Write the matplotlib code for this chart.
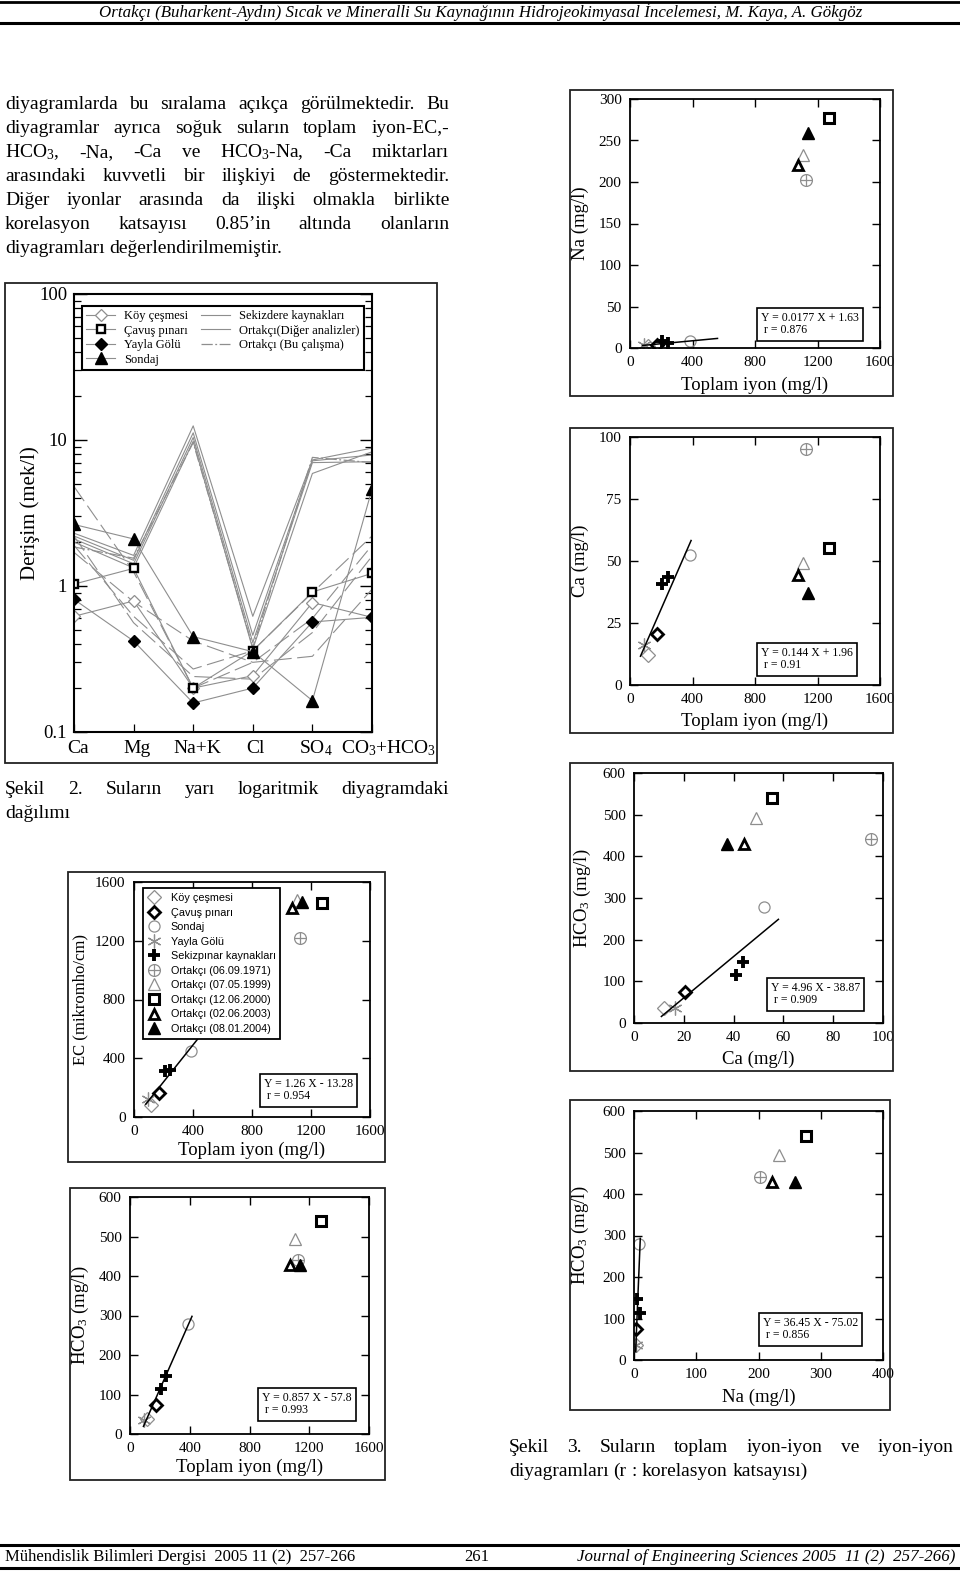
import matplotlib
matplotlib.use('Agg')
import matplotlib.pyplot as plt
import numpy as np
from matplotlib.patches import Rectangle
from matplotlib.lines import Line2D
from matplotlib.legend_handler import HandlerTuple
from matplotlib.ticker import LogLocator, NullFormatter, FixedLocator
import matplotlib.transforms as mtransforms

W, H = 960, 1573
SERIF = 'Liberation Serif'
SANS = 'Liberation Sans'
plt.rcParams['font.family'] = [SERIF, 'DejaVu Serif']
plt.rcParams['mathtext.fontset'] = 'custom'
plt.rcParams['mathtext.rm'] = SERIF
plt.rcParams['mathtext.it'] = SERIF + ':italic'
plt.rcParams['mathtext.bf'] = SERIF + ':bold'

GRAY = '#8e8e8e'

# ---------------- Şekil 2 : yarı logaritmik diyagram (mek/l)
iyonlar = ['Ca', 'Mg', 'Na+K', 'Cl', 'SO$_4$', 'CO$_3$+HCO$_3$']
koy_cesmesi = [0.62, 0.79, 0.20, 0.243, 0.77, 0.61]
cavus_pinari = [1.03, 1.32, 0.20, 0.36, 0.91, 1.22]
yayla_golu = [0.81, 0.42, 0.158, 0.20, 0.567, 0.61]
sondaj = [2.64, 2.10, 0.45, 0.355, 0.164, 4.6]
ortakci_diger = [
    [2.3, 1.62, 12.5, 0.62, 7.3, 8.8],
    [2.2, 1.50, 11.2, 0.46, 7.2, 7.9],
    [2.1, 1.42, 10.4, 0.41, 7.0, 7.1],
    [2.0, 1.33, 9.8, 0.37, 5.9, 8.3],
]
ortakci_bu = [1.85, 1.55, 9.6, 0.38, 7.6, 7.0]
sekizdere = [
    [4.8, 1.25, 0.20, 0.30, 0.60, 1.9],
    [1.9, 0.62, 0.27, 0.36, 0.90, 2.2],
    [2.2, 0.56, 0.24, 0.23, 0.48, 1.6],
    [1.7, 0.78, 0.42, 0.30, 0.33, 0.95],
]

# ---------------- Şekil 3 : iyon ilişkileri (mg/l)
gruplar = ['Köy çeşmesi', 'Çavuş pınarı', 'Sondaj', 'Yayla Gölü',
           'Sekizpınar kaynakları', 'Ortakçı (06.09.1971)', 'Ortakçı (07.05.1999)',
           'Ortakçı (12.06.2000)', 'Ortakçı (02.06.2003)', 'Ortakçı (08.01.2004)']
grup = [0, 1, 2, 3, 4, 4, 5, 6, 7, 8, 9]
toplam_iyon = [115, 172, 385, 92, 207, 241, 1128, 1106, 1276, 1072, 1139]
na = [3.0, 3.6, 8.8, 3.2, 9.0, 5.5, 202, 233, 277, 221, 259]
ca = [12.0, 20.4, 52.3, 16.3, 40.9, 43.7, 95.0, 49.0, 55.4, 44.2, 37.2]
hco3 = [37, 74, 279, 36, 114, 147, 441, 493, 539, 429, 429]
ec = [79, 164, 450, 122, 316, 322, 1222, 1475, 1458, 1425, 1464]

# regresyon: (eğim, kesim, x başlangıç, x bitiş)
na_ti_fit = (0.0177, 1.63, 80, 560)
ca_ti_fit = (0.144, 1.96, 67, 391)
hco3_ca_fit = (4.96, -38.87, 11, 58)
ec_ti_fit = (1.26, -13.28, 80, 430)
hco3_ti_fit = (0.857, -57.8, 90, 415)
hco3_na_fit = (36.45, -75.02, 2.6, 10.1)
na_ti_eq = 'Y = 0.0177 X + 1.63\n r = 0.876'
ca_ti_eq = 'Y = 0.144 X + 1.96\n r = 0.91'
hco3_ca_eq = 'Y = 4.96 X - 38.87\n r = 0.909'
ec_ti_eq = 'Y = 1.26 X - 13.28\n r = 0.954'
hco3_ti_eq = 'Y = 0.857 X - 57.8\n r = 0.993'
hco3_na_eq = 'Y = 36.45 X - 75.02\n r = 0.856'

paragraf = [
    'diyagramlarda bu sıralama açıkça görülmektedir. Bu',
    'diyagramlar ayrıca soğuk suların toplam iyon-EC,-',
    'HCO$_3$, -Na, -Ca ve HCO$_3$-Na, -Ca miktarları',
    'arasındaki kuvvetli bir ilişkiyi de göstermektedir.',
    'Diğer iyonlar arasında da ilişki olmakla birlikte',
    'korelasyon katsayısı 0.85’in altında olanların',
    'diyagramları değerlendirilmemiştir.',
]

fig = plt.figure(figsize=(W / 100, H / 100), dpi=100)
fig.patch.set_facecolor('white')
renderer = fig.canvas.get_renderer()


def box(l, t, r, b):
    return [l / W, 1 - b / H, (r - l) / W, (b - t) / H]


def ftxt(x, y, s, **kw):
    return fig.text(x / W, 1 - y / H, s, **kw)


def frame(l, t, r, b, lw=1.3):
    fig.add_artist(Rectangle((l / W, 1 - b / H), (r - l) / W, (b - t) / H,
                             transform=fig.transFigure, fill=False, lw=lw, ec='#222222'))


def hline(y, x0, x1, lw):
    fig.add_artist(Line2D([x0 / W, x1 / W], [1 - y / H] * 2, transform=fig.transFigure,
                          color='black', lw=lw))


def justify(line, yb, x0, x1, size, last=False, **kw):
    words = line.split()
    arts = [ftxt(x0, yb, w, fontsize=size, va='baseline', ha='left', **kw) for w in words]
    widths = [a.get_window_extent(renderer).width for a in arts]
    if last or len(words) == 1:
        gap = size * 100 / 72 * 0.25
    else:
        gap = (x1 - x0 - sum(widths)) / (len(words) - 1)
    x = x0
    for a, w in zip(arts, widths):
        a.set_x(x / W)
        x += w + gap


# ---- başlık ve alt bilgi
hline(1.5, 0, W, 2.0)
hline(22.5, 0, W, 2.2)
ftxt(481, 17, 'Ortakçı (Buharkent-Aydın) Sıcak ve Mineralli Su Kaynağının Hidrojeokimyasal '
     'İncelemesi, M. Kaya, A. Gökgöz', fontsize=12.2, style='italic', ha='center', va='baseline')
hline(1545, 0, W, 2.2)
hline(1567.5, 0, W, 2.2)
ftxt(5, 1561, 'Mühendislik Bilimleri Dergisi  2005 11 (2)  257-266', fontsize=12, va='baseline')
ftxt(477, 1561, '261', fontsize=12, ha='center', va='baseline')
ftxt(955, 1561, 'Journal of Engineering Sciences 2005  11 (2)  257-266)', fontsize=12.2,
     style='italic', ha='right', va='baseline')

# ---- metin
for i, satir in enumerate(paragraf):
    justify(satir, 109 + 24 * i, 5, 449, 14, last=(i == len(paragraf) - 1))
justify('Şekil 2. Suların yarı logaritmik diyagramdaki', 794, 5, 449, 14)
justify('dağılımı', 818, 5, 449, 14, last=True)
justify('Şekil 3. Suların toplam iyon-iyon ve iyon-iyon', 1452, 509, 953, 14)
justify('diyagramları (r : korelasyon katsayısı)', 1476, 509, 953, 14, last=True)

# ---- Şekil 2
frame(5, 283, 437, 763)
ax = fig.add_axes(box(74, 294, 372, 732))
xk = np.arange(len(iyonlar))
for seri in ortakci_diger:
    ax.plot(xk, seri, color=GRAY, lw=0.8)
ax.plot(xk, ortakci_bu, color=GRAY, lw=0.9, dashes=(9, 2, 1.5, 2))
for seri in sekizdere:
    ax.plot(xk, seri, color=GRAY, lw=0.8, dashes=(16, 5))
ax.plot(xk, koy_cesmesi, color=GRAY, lw=0.8, marker='D', ms=6.5, mfc='white', mec=GRAY, mew=0.9)
ax.plot(xk, cavus_pinari, color=GRAY, lw=0.8, marker='s', ms=5.2, mfc='white', mec='black', mew=1.7)
ax.plot(xk, yayla_golu, color=GRAY, lw=0.8, marker='D', ms=6.5, mfc='black', mec='black')
ax.plot(xk, sondaj, color=GRAY, lw=0.8, marker='^', ms=8, mfc='black', mec='black')
ax.set_yscale('log')
ax.set_ylim(0.1, 100)
ax.set_xlim(0, 5)
ax.set_xticks(xk)
ax.set_xticklabels([])
# iyon adları: özgün diyagramdaki gibi biraz sağa kaymış
trans = mtransforms.blended_transform_factory(ax.transData, ax.transAxes)
for i, (ad, dx) in enumerate(zip(iyonlar, [0.07, 0.05, 0.07, 0.05, 0.06, 0.27])):
    ax.text(i + dx, -0.037, ad, transform=trans, fontsize=14, ha='center', va='center',
            clip_on=False)
ax.yaxis.set_major_locator(FixedLocator([0.1, 1, 10, 100]))
ax.set_yticklabels(['0.1', '1', '10', '100'], fontsize=13.5)
ax.yaxis.set_minor_locator(LogLocator(base=10, subs=np.arange(2, 10)))
ax.yaxis.set_minor_formatter(NullFormatter())
ax.tick_params(axis='y', which='major', direction='in', left=True, right=True, length=9, width=1.0, pad=5)
ax.tick_params(axis='y', which='minor', direction='in', left=True, right=True, length=5, width=0.9)
ax.tick_params(axis='x', direction='in', length=6, width=0.9, pad=7)
ax.set_ylabel('Derişim (mek/l)', fontsize=15, va='center')
ax.yaxis.set_label_coords(-0.148, 0.5)
for s in ax.spines.values():
    s.set_linewidth(1.5)

hnd = [
    Line2D([], [], color=GRAY, lw=0.8, marker='D', ms=6.5, mfc='white', mec=GRAY, mew=0.9),
    Line2D([], [], color=GRAY, lw=0.8, marker='s', ms=5.2, mfc='white', mec='black', mew=1.7),
    Line2D([], [], color=GRAY, lw=0.8, marker='D', ms=6.5, mfc='black', mec='black'),
    Line2D([], [], color=GRAY, lw=0.8, marker='^', ms=8, mfc='black', mec='black'),
    Line2D([], [], color=GRAY, lw=0.8),
    Line2D([], [], color=GRAY, lw=0.8),
    Line2D([], [], color=GRAY, lw=0.9, dashes=(9, 2, 1.5, 2)),
]
etiket = ['Köy çeşmesi', 'Çavuş pınarı', 'Yayla Gölü', 'Sondaj',
          'Sekizdere kaynakları', 'Ortakçı(Diğer analizler)', 'Ortakçı (Bu çalışma)']
leg = ax.legend(hnd, etiket, ncol=2, loc='upper left', bbox_to_anchor=(0.027, 0.973, 0.945, 0),
                mode='expand', borderaxespad=0, fontsize=9, fancybox=False, framealpha=1,
                edgecolor='black', handlelength=2.3, handletextpad=0.7, labelspacing=0.2,
                borderpad=0.35, columnspacing=1.0)
leg.get_frame().set_linewidth(1.5)

# ---- Şekil 3
stiller = [
    dict(marker='D', mfc='none', mec=GRAY, mew=0.9, ms=7.5),
    dict(marker='D', mfc='none', mec='black', mew=2.0, ms=6.5),
    dict(marker='o', mfc='none', mec=GRAY, mew=0.9, ms=8),
    dict(marker=(6, 2, 0), mfc='none', mec=GRAY, mew=0.9, ms=10),
    dict(marker='+', mfc='black', mec='black', mew=2.8, ms=9),
    None,
    dict(marker='^', mfc='none', mec=GRAY, mew=0.9, ms=9),
    dict(marker='s', mfc='none', mec='black', mew=2.2, ms=7),
    dict(marker='^', mfc='none', mec='black', mew=2.0, ms=7.5),
    dict(marker='^', mfc='black', mec='black', mew=1, ms=8.5),
]
OPLUS = [dict(marker='o', mfc='none', mec=GRAY, mew=0.9, ms=8.5),
         dict(marker='+', mec=GRAY, mew=0.9, ms=8.5)]


def nokta(ax, xv, yv, g):
    if stiller[g] is None:
        for st in OPLUS:
            ax.plot([xv], [yv], ls='none', **st)
    else:
        ax.plot([xv], [yv], ls='none', **stiller[g])


def panel(rect, fr, xs, ys, xlim, ylim, xlabel, ylabel, fit, eq, eqpos,
          ylab_x, xlab_y, ylab_size=13.5):
    frame(*fr)
    l, t, r, b = rect
    a = fig.add_axes(box(*rect))
    for xv, yv, g in zip(xs, ys, grup):
        nokta(a, xv, yv, g)
    xx = np.array(fit[2:])
    a.plot(xx, fit[0] * xx + fit[1], color='black', lw=1.1)
    a.set_xlim(0, xlim[-1])
    a.set_ylim(0, ylim[-1])
    a.set_xticks(xlim)
    a.set_yticks(ylim)
    a.tick_params(direction='in', top=True, right=True, length=6, width=1.0,
                  labelsize=11, pad=6)
    for s in a.spines.values():
        s.set_linewidth(1.3)
    a.set_xlabel(xlabel, fontsize=13.5, va='center')
    a.xaxis.set_label_coords(0.5, (b - xlab_y) / (b - t))
    a.set_ylabel(ylabel, fontsize=ylab_size, va='center')
    a.yaxis.set_label_coords((ylab_x - l) / (r - l), 0.5)
    ftxt(eqpos[0] + 4, eqpos[1] + 4, eq, fontsize=8.5, ha='left', va='top', linespacing=1.05,
         bbox=dict(boxstyle='square,pad=0.35', fc='white', ec='black', lw=1.2))
    return a


ti_ticks = [0, 400, 800, 1200, 1600]
hco3_ticks = [0, 100, 200, 300, 400, 500, 600]

panel((630, 99, 880, 348), (570, 90, 893, 396), toplam_iyon, na, ti_ticks,
      [0, 50, 100, 150, 200, 250, 300], 'Toplam iyon (mg/l)', 'Na (mg/l)',
      na_ti_fit, na_ti_eq, (757, 308), 580, 385)
panel((630, 437, 880, 685), (570, 428, 893, 733), toplam_iyon, ca, ti_ticks,
      [0, 25, 50, 75, 100], 'Toplam iyon (mg/l)', 'Ca (mg/l)',
      ca_ti_fit, ca_ti_eq, (757, 643), 580, 721)
panel((634, 773, 883, 1023), (570, 763, 893, 1071), ca, hco3, [0, 20, 40, 60, 80, 100],
      hco3_ticks, 'Ca (mg/l)', 'HCO$_3$ (mg/l)',
      hco3_ca_fit, hco3_ca_eq, (767, 978), 582, 1059)
aec = panel((134, 882, 370, 1117), (68, 872, 385, 1162), toplam_iyon, ec, ti_ticks,
            [0, 400, 800, 1200, 1600], 'Toplam iyon (mg/l)', 'EC (mikromho/cm)',
            ec_ti_fit, ec_ti_eq, (260, 1074), 80, 1150, ylab_size=12)
panel((130, 1197, 369, 1434), (70, 1188, 385, 1480), toplam_iyon, hco3, ti_ticks,
      hco3_ticks, 'Toplam iyon (mg/l)', 'HCO$_3$ (mg/l)',
      hco3_ti_fit, hco3_ti_eq, (258, 1388), 80, 1467)
panel((634, 1111, 883, 1360), (570, 1100, 890, 1410), na, hco3, [0, 100, 200, 300, 400],
      hco3_ticks, 'Na (mg/l)', 'HCO$_3$ (mg/l)',
      hco3_na_fit, hco3_na_eq, (759, 1313), 580, 1397)

# EC grafiği lejantı
leg_h = []
for g in range(len(gruplar)):
    if stiller[g] is None:
        leg_h.append(tuple(Line2D([], [], ls='none', **st) for st in OPLUS))
    else:
        leg_h.append(Line2D([], [], ls='none', **stiller[g]))
leg2 = aec.legend(leg_h, gruplar, loc='upper left', bbox_to_anchor=(0.038, 0.974),
                  borderaxespad=0, prop={'family': SANS, 'size': 7.8}, fancybox=False,
                  framealpha=1, edgecolor='black', handlelength=1.2, handletextpad=0.9,
                  labelspacing=0.42, borderpad=0.45, numpoints=1,
                  handler_map={tuple: HandlerTuple(ndivide=1)})
leg2.get_frame().set_linewidth(1.3)

fig.savefig('out.png', dpi=100)
